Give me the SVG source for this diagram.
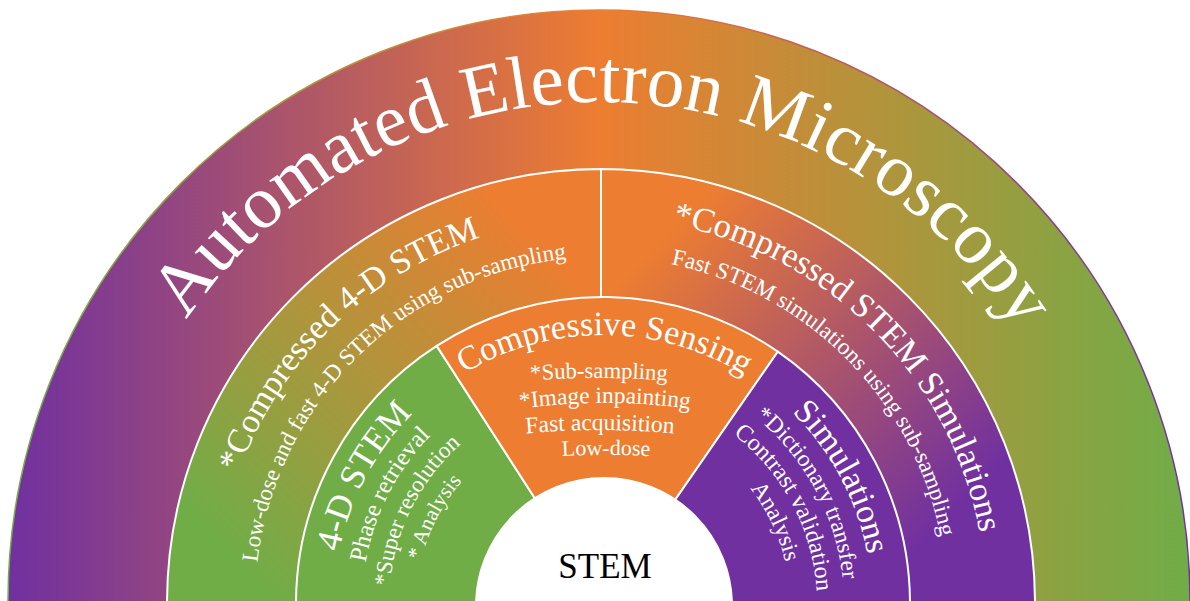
<svg xmlns="http://www.w3.org/2000/svg" width="1190" height="601" viewBox="0 0 1190 601">
  <style>
    text { font-family: "Liberation Serif", "Times New Roman", serif; fill: #ffffff; }
    .sector { stroke: #ffffff; stroke-width: 2; stroke-linejoin: round; }
    .hub { fill: #ffffff; stroke: #ffffff; stroke-width: 2; }
    .hub-label { fill: #000000; font-size: 35px; }
  </style>
  <defs>
    <!-- outer band: purple -> orange -> green across the width -->
    <linearGradient id="gOuter" gradientUnits="userSpaceOnUse" x1="8" y1="0" x2="1190" y2="0">
      <stop offset="0" stop-color="#7030A0"/>
      <stop offset="0.5" stop-color="#ED7D31"/>
      <stop offset="1" stop-color="#70AD47"/>
    </linearGradient>
    <linearGradient id="gOuterEdge" gradientUnits="userSpaceOnUse" x1="8" y1="0" x2="1190" y2="0">
      <stop offset="0" stop-color="#70AD47"/>
      <stop offset="0.5" stop-color="#ED7D31"/>
      <stop offset="1" stop-color="#7030A0"/>
    </linearGradient>
    <!-- middle band halves -->
    <linearGradient id="gLeft" x1="0" y1="1" x2="1" y2="0">
      <stop offset="0.13" stop-color="#70AD47"/>
      <stop offset="0.85" stop-color="#ED7D31"/>
    </linearGradient>
    <linearGradient id="gRight" x1="0" y1="0" x2="1" y2="1">
      <stop offset="0.15" stop-color="#ED7D31"/>
      <stop offset="0.8" stop-color="#7030A0"/>
    </linearGradient>

    <!-- baselines (clockwise half circles, left to right over the top) -->
    <path id="pOuter" d="M 100,601 A 499 499 0 0 1 1098,601"/>
    <path id="pR2Title" d="M 216,603 A 385 385 0 0 1 986,603"/>
    <path id="pR2Sub" d="M 255,603 A 346 346 0 0 1 947,603"/>
    <path id="pR3Title" d="M 334,604 A 269 269 0 0 1 872,604"/>
    <path id="pR3a" d="M 362,604 A 241 241 0 0 1 844,604"/>
    <path id="pR3b" d="M 389,604 A 214 214 0 0 1 817,604"/>
    <path id="pR3c" d="M 416,604 A 187 187 0 0 1 790,604"/>
    <!-- flatter baselines for the centre sector list -->
    <path id="pCs1" d="M 449,390.6 A 900 900 0 0 1 749,390.6"/>
    <path id="pCs2" d="M 455,420.6 A 650 650 0 0 1 755,420.6"/>
    <path id="pCs3" d="M 450,444.2 A 800 800 0 0 1 750,444.2"/>
    <path id="pCs4" d="M 456,467.6 A 900 900 0 0 1 756,467.6"/>
  </defs>

  <!-- outer band -->
  <g id="n-automated">
    <circle cx="599" cy="601" r="591" fill="url(#gOuter)" stroke="url(#gOuterEdge)" stroke-width="1.5"/>
    <text font-size="75"><textPath href="#pOuter" startOffset="50.4%" text-anchor="middle">Automated Electron Microscopy</textPath></text>
  </g>

  <!-- middle band, left half -->
  <g id="n-compressed-4d-stem">
    <path class="sector" fill="url(#gLeft)" d="M 601,603 L 167,603 A 434 434 0 0 1 601,169 Z"/>
    <text font-size="34.3"><textPath href="#pR2Title" startOffset="25.44%" text-anchor="middle">*Compressed 4-D STEM</textPath></text>
    <text font-size="23.2"><textPath href="#pR2Sub" startOffset="25.28%" text-anchor="middle">Low-dose and fast 4-D STEM using sub-sampling</textPath></text>
  </g>

  <!-- middle band, right half -->
  <g id="n-compressed-stem-simulations">
    <path class="sector" fill="url(#gRight)" d="M 601,603 L 601,169 A 434 434 0 0 1 1035,603 Z"/>
    <text font-size="34.5"><textPath href="#pR2Title" startOffset="75.06%" text-anchor="middle">*Compressed STEM Simulations</textPath></text>
    <text font-size="23.2"><textPath href="#pR2Sub" startOffset="75.19%" text-anchor="middle">Fast STEM simulations using sub-sampling</textPath></text>
  </g>

  <!-- inner band: 4-D STEM -->
  <g id="n-4d-stem">
    <path class="sector" fill="#70AD47" d="M 603,604 L 296,604 A 307 307 0 0 1 436.7,345.9 Z"/>
    <text font-size="35.5"><textPath href="#pR3Title" startOffset="15.61%" text-anchor="middle">4-D STEM</textPath></text>
    <text font-size="24.5"><textPath href="#pR3a" startOffset="15.06%" text-anchor="middle">Phase retrieval</textPath></text>
    <text font-size="23"><textPath href="#pR3b" startOffset="14.78%" text-anchor="middle">*Super resolution</textPath></text>
    <text font-size="21.5"><textPath href="#pR3c" startOffset="15.14%" text-anchor="middle">* Analysis</textPath></text>
  </g>

  <!-- inner band: Compressive Sensing -->
  <g id="n-compressive-sensing">
    <path class="sector" fill="#ED7D31" d="M 603,604 L 436.7,345.9 A 307 307 0 0 1 777.8,351.6 Z"/>
    <text font-size="34.1"><textPath href="#pR3Title" startOffset="50.19%" text-anchor="middle">Compressive Sensing</textPath></text>
    <text font-size="22.6"><textPath href="#pCs1" startOffset="50%" text-anchor="middle">*Sub-sampling</textPath></text>
    <text font-size="23.3"><textPath href="#pCs2" startOffset="50%" text-anchor="middle">*Image inpainting</textPath></text>
    <text font-size="23.5"><textPath href="#pCs3" startOffset="50%" text-anchor="middle">Fast acquisition</textPath></text>
    <text font-size="22"><textPath href="#pCs4" startOffset="50%" text-anchor="middle">Low-dose</textPath></text>
  </g>

  <!-- inner band: Simulations -->
  <g id="n-simulations">
    <path class="sector" fill="#7030A0" d="M 603,604 L 777.8,351.6 A 307 307 0 0 1 910,604 Z"/>
    <text font-size="34.2"><textPath href="#pR3Title" startOffset="84.44%" text-anchor="middle">Simulations</textPath></text>
    <text font-size="23.5"><textPath href="#pR3a" startOffset="84.22%" text-anchor="middle">*Dictionary transfer</textPath></text>
    <text font-size="24"><textPath href="#pR3b" startOffset="84.47%" text-anchor="middle">Contrast validation</textPath></text>
    <text font-size="23.5"><textPath href="#pR3c" startOffset="85.81%" text-anchor="middle">Analysis</textPath></text>
  </g>

  <!-- hub -->
  <g id="n-stem">
    <circle class="hub" cx="604" cy="606" r="128"/>
    <text class="hub-label" x="605" y="578" text-anchor="middle">STEM</text>
  </g>
</svg>
